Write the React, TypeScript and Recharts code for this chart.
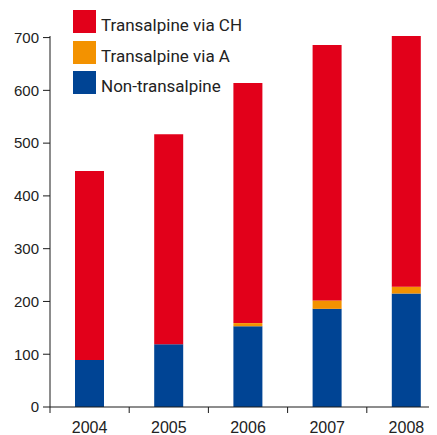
import React from 'react';
import { BarChart, Bar, XAxis, YAxis } from 'recharts';

const years = ['2004', '2005', '2006', '2007', '2008'];
const nonTransalpine = [89, 119, 153, 186, 215];
const transalpineViaA = [0, 0, 6, 16, 13];
const transalpineViaCH = [358, 398, 455, 484, 475];
const yTicks = [0, 100, 200, 300, 400, 500, 600, 700];
const seriesNames = ['Non-transalpine', 'Transalpine via A', 'Transalpine via CH'];

const data = years.map((year, i) => ({
  year,
  non: nonTransalpine[i],
  viaA: transalpineViaA[i],
  viaCH: transalpineViaCH[i],
}));

const BLUE = '#004494';
const ORANGE = '#F39200';
const RED = '#E2001A';
const AXIS = '#1a1a1a';
const TEXT = '#222222';
const FONT = "'Liberation Sans', Arial, sans-serif";
const LEGEND_FONT = "Roboto, 'Liberation Sans', sans-serif";

const seriesColors = [BLUE, ORANGE, RED];

const XTick = (props: any) => {
  const { x, y, payload } = props;
  const off = payload && typeof payload.offset === 'number' ? payload.offset : 39.6;
  return (
    <g>
      <line x1={x - off} y1={y - 6} x2={x - off} y2={y} stroke={AXIS} strokeWidth={1} />
      <text x={x} y={y + 20} textAnchor="middle" fill={TEXT} fontSize={16} fontFamily={FONT}>
        {payload.value}
      </text>
    </g>
  );
};

const YTick = (props: any) => {
  const { x, y, payload } = props;
  return (
    <text x={x} y={y} dy="0.355em" textAnchor="end" fill={TEXT} fontSize={15} fontFamily={FONT}>
      {payload.value}
    </text>
  );
};

export default function App() {
  const legendItems = seriesNames.map((n, i) => ({ name: n, color: seriesColors[i] })).reverse();
  return (
    <div style={{ position: 'relative', width: 429, height: 427, overflow: 'hidden', fontFamily: FONT }}>
      <BarChart
        width={440}
        height={427}
        data={data}
        margin={{ top: 28, right: 2, bottom: 0, left: 0 }}
      >
        <XAxis
          dataKey="year"
          height={28}
          axisLine={{ stroke: AXIS, strokeWidth: 1 }}
          tickLine={false}
          tickSize={6}
          tickMargin={0}
          tick={<XTick />}
          interval={0}
        />
        <YAxis
          width={42}
          domain={[0, 700]}
          ticks={yTicks}
          interval={0}
          axisLine={{ stroke: AXIS, strokeWidth: 1 }}
          tickLine={{ stroke: AXIS, strokeWidth: 1 }}
          tickSize={7}
          tickMargin={4}
          tick={<YTick />}
        />
        <Bar dataKey="non" name={seriesNames[0]} stackId="a" fill={BLUE} barSize={29} isAnimationActive={false} />
        <Bar dataKey="viaA" name={seriesNames[1]} stackId="a" fill={ORANGE} barSize={29} isAnimationActive={false} />
        <Bar dataKey="viaCH" name={seriesNames[2]} stackId="a" fill={RED} barSize={29} isAnimationActive={false} />
      </BarChart>
      <div style={{ position: 'absolute', left: 65, top: 2, fontFamily: LEGEND_FONT }}>
        {legendItems.map((it) => (
          <div key={it.name} style={{ display: 'flex', alignItems: 'flex-start', height: 30.5 }}>
            <div style={{ width: 23, height: 23, background: it.color, flex: 'none' }} />
            <span style={{ marginLeft: 5, fontSize: 17, lineHeight: '31px', color: TEXT, whiteSpace: 'nowrap' }}>{it.name}</span>
          </div>
        ))}
      </div>
    </div>
  );
}
